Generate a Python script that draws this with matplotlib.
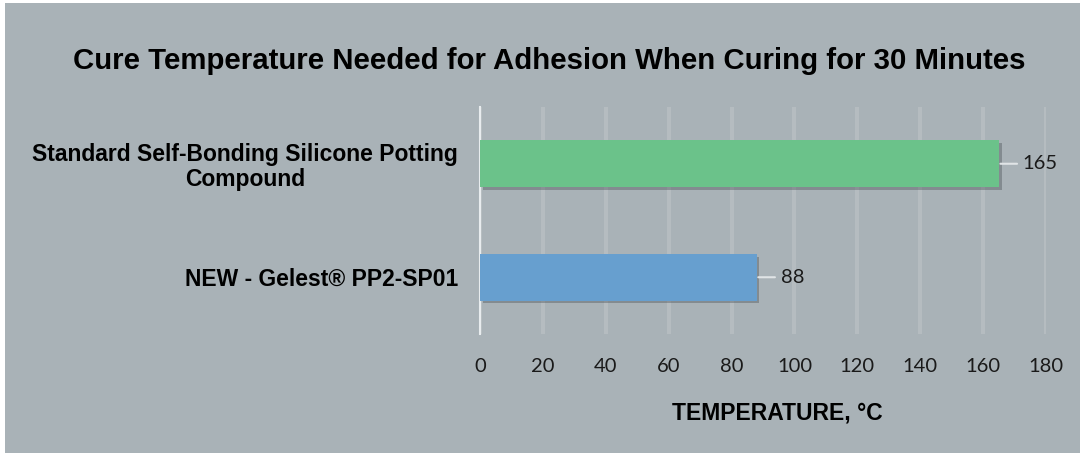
import matplotlib.pyplot as plt
import matplotlib.patheffects as pe

# -----------------------------
# Data
# -----------------------------
categories = ["NEW - Gelest® PP2-SP01", "Standard Self-Bonding Silicone Potting\nCompound"]
temperatures = [88, 165]
bar_colors = ["#679FCF", "#6BC28A"]
x_ticks = [0, 20, 40, 60, 80, 100, 120, 140, 160, 180]

BG = "#A9B2B7"

# -----------------------------
# Plot
# -----------------------------
fig = plt.figure(figsize=(10.8, 4.53), dpi=100)
fig.patch.set_facecolor("white")
# gray chart panel with a thin white margin on top/left
fig.patches.append(plt.Rectangle((5 / 1080, 0), 1 - 5 / 1080, 1 - 3 / 453,
                                 transform=fig.transFigure, facecolor=BG,
                                 edgecolor="none", zorder=-10))

ax = fig.add_axes([480 / 1080, 119 / 453, 566 / 1080, 227 / 453])
ax.set_facecolor("none")

y_pos = list(range(len(categories)))
bars = ax.barh(y_pos, temperatures, height=0.41, color=bar_colors, zorder=3)
for b in bars:
    b.set_path_effects([pe.SimplePatchShadow(offset=(2, -2), shadow_rgbFace="#4a5257", alpha=0.4),
                        pe.Normal()])

ax.set_xlim(0, 180)
ax.set_ylim(-0.5, 1.5)
ax.set_xticks(x_ticks)
ax.set_yticks(y_pos)
ax.set_yticklabels(categories, fontfamily="Liberation Sans", fontweight="bold", fontsize=16.5)
for lbl in ax.get_yticklabels():
    lbl.set_multialignment("center")
    lbl.set_linespacing(1.1)

ax.tick_params(axis="both", length=0)
ax.tick_params(axis="x", pad=17.5, labelsize=14.5, labelcolor="#1a1a1a")
ax.tick_params(axis="y", pad=16)
for lbl in ax.get_xticklabels():
    lbl.set_fontfamily("Lato")

ax.grid(axis="x", color="#B5BCC0", linewidth=3, zorder=0)
for s in ["top", "right", "bottom"]:
    ax.spines[s].set_visible(False)
ax.spines["left"].set_color("#E8ECEE")
ax.spines["left"].set_linewidth(1.5)

# data labels with a short leader line
for y, v in zip(y_pos, temperatures):
    ax.annotate(str(v), xy=(v + 0.5, y), xytext=(16, 0), textcoords="offset points",
                va="center", ha="left", fontsize=14.5, fontfamily="Lato", color="#1a1a1a",
                arrowprops=dict(arrowstyle="-", color="#E0E4E6", lw=1.5,
                                shrinkA=2, shrinkB=0))

ax.set_xlabel("TEMPERATURE, °C", fontfamily="Liberation Sans", fontweight="bold",
              fontsize=16.5, va="center")
ax.xaxis.set_label_coords((777 - 480) / 566, -79 / 227)

fig.text(549 / 1080, 1 - 69 / 453, "Cure Temperature Needed for Adhesion When Curing for 30 Minutes",
         ha="center", va="baseline", fontfamily="Liberation Sans", fontweight="bold", fontsize=21.2)

fig.savefig("out.png", dpi=100, facecolor=fig.get_facecolor())
